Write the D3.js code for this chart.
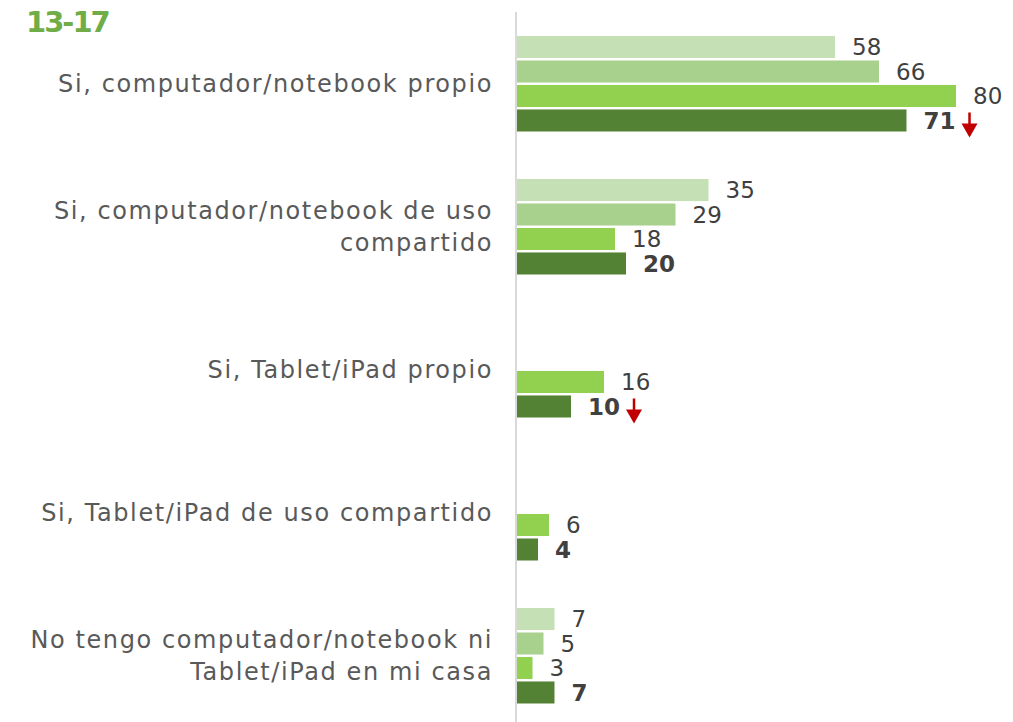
<!DOCTYPE html>
<html>
<head>
<meta charset="utf-8">
<title>13-17</title>
<script src="https://cdn.jsdelivr.net/npm/d3@7"></script>
<style>
	body { margin: 0; background: #fff; }
	svg { display: block; font-family: "DejaVu Sans", sans-serif; }
	.cat { fill: #595959; font-size: 24px; letter-spacing: 1.6px; }
	.val { fill: #404040; font-size: 23px; }
	.val.bold { font-weight: 700; }
</style>
</head>
<body>
<svg id="chart" width="1013" height="722"></svg>
<script>
	// categories (one label line per entry)
	var categories = [
		["Si, computador/notebook propio"],
		["Si, computador/notebook de uso", "compartido"],
		["Si, Tablet/iPad propio"],
		["Si, Tablet/iPad de uso compartido"],
		["No tengo computador/notebook ni", "Tablet/iPad en mi casa"]
	];
	// four measurements, oldest to newest; null = not asked
	var series1 = [58, 35, null, null, 7];
	var series2 = [66, 29, null, null, 5];
	var series3 = [80, 18, 16, 6, 3];
	var series4 = [71, 20, 10, 4, 7];
	// significant drop marks on the last series
	var dropFlags = [true, false, true, false, false];

	var seriesList = [
		{key: "s1", values: series1, color: "#c5e0b4", bold: false},
		{key: "s2", values: series2, color: "#a9d18e", bold: false},
		{key: "s3", values: series3, color: "#92d050", bold: false},
		{key: "s4", values: series4, color: "#548235", bold: true, flags: dropFlags}
	];

	var svg = d3.select("#chart");

	var x = d3.scaleLinear().domain([0, 80]).range([516, 956]);

	var y0 = d3.scaleBand()
		.domain(d3.range(categories.length))
		.range([36, 36 + 143 * categories.length]);

	var y1 = d3.scaleBand()
		.domain(seriesList.map(function(s){ return s.key; }))
		.range([0, 95.5])
		.paddingInner(0.1);

	// title
	svg.append("text")
		.attr("x", 26).attr("y", 32)
		.style("font-size", "29px")
		.style("font-weight", "700")
		.style("fill", "#70ad47")
		.style("letter-spacing", "-2px")
		.text("13-17");

	// axis line
	svg.append("line")
		.attr("x1", x(0)).attr("x2", x(0))
		.attr("y1", 12).attr("y2", 722)
		.style("stroke", "#d9d9d9")
		.style("stroke-width", 2);

	// category labels
	categories.forEach(function(lines, i){
		var cy = y0(i) + 95.5 / 2;
		var t = svg.append("text")
			.attr("class", "cat")
			.attr("text-anchor", "end")
			.attr("x", 493);
		lines.forEach(function(l, j){
			t.append("tspan")
				.attr("x", 493)
				.attr("y", cy + (j - (lines.length - 1) / 2) * 32)
				.attr("dy", "0.35em")
				.text(l);
		});
	});

	// bars + labels
	seriesList.forEach(function(s){
		var g = svg.append("g");
		var pts = s.values.map(function(v, i){ return {v: v, i: i}; })
			.filter(function(d){ return d.v != null; });

		g.selectAll("rect").data(pts).enter().append("rect")
			.attr("x", x(0) + 1)
			.attr("y", function(d){ return y0(d.i) + y1(s.key); })
			.attr("width", function(d){ return x(d.v) - x(0) - 1; })
			.attr("height", y1.bandwidth())
			.style("fill", s.color);

		g.selectAll("text").data(pts).enter().append("text")
			.attr("class", s.bold ? "val bold" : "val")
			.attr("x", function(d){ return x(d.v) + 17; })
			.attr("y", function(d){ return y0(d.i) + y1(s.key) + y1.bandwidth() / 2; })
			.attr("dy", "0.36em")
			.text(function(d){ return d.v; })
			.each(function(d){
				if (!s.flags || !s.flags[d.i]) return;
				var bb = this.getBBox();
				var ax = bb.x + bb.width + 14;
				var ay = y0(d.i) + y1(s.key) + y1.bandwidth() / 2;
				g.append("line")
					.attr("x1", ax).attr("x2", ax)
					.attr("y1", ay - 8).attr("y2", ay + 5)
					.style("stroke", "#c00000")
					.style("stroke-width", 2.5);
				g.append("path")
					.attr("d", "M" + (ax - 8) + "," + (ay + 3) + "L" + (ax + 8) + "," + (ay + 3) + "L" + ax + "," + (ay + 17) + "Z")
					.style("fill", "#c00000");
			});
	});
</script>
</body>
</html>
